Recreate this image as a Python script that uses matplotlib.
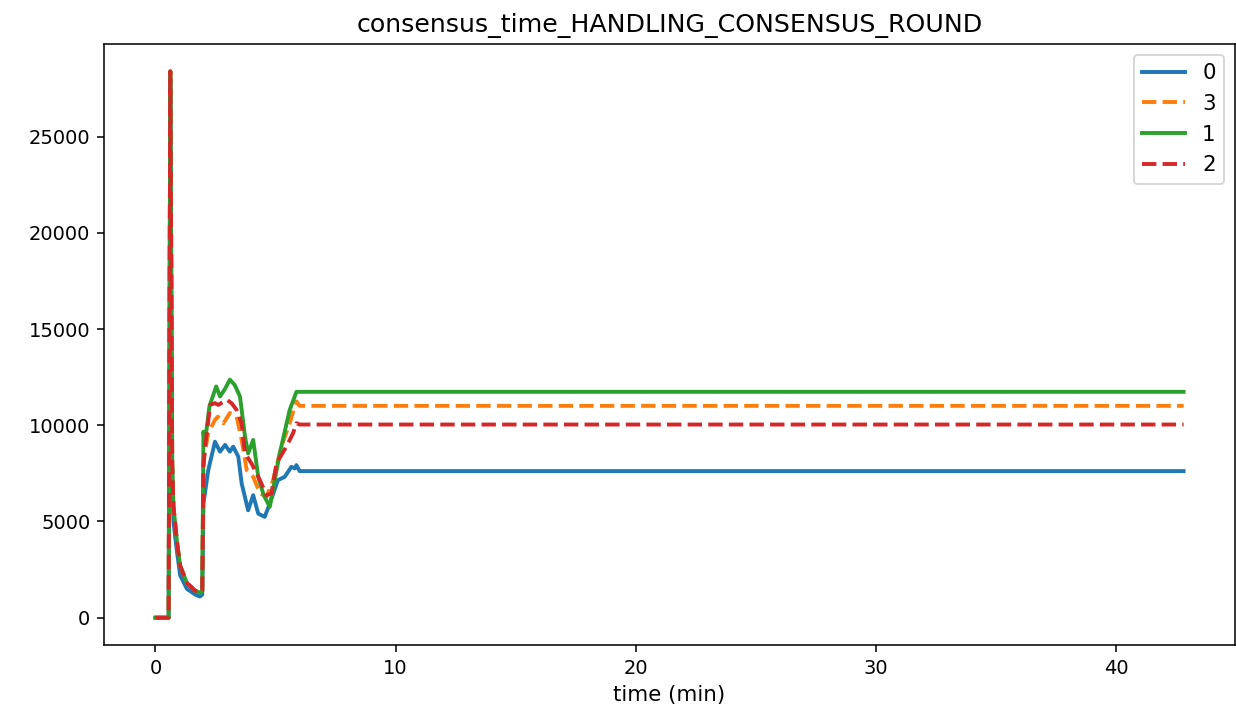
import matplotlib
matplotlib.use("Agg")
import matplotlib.pyplot as plt

# values (time in minutes)
t_early = [0, 0.55, 0.62, 0.7, 0.75, 0.9, 1.03, 1.31, 1.66, 1.85, 1.95]
early_hi = [0, 0, 28400, 8000, 5800, 3900, 2700, 1800, 1400, 1300, 1400]
early_lo = [0, 0, 28000, 7000, 5000, 3400, 2200, 1500, 1200, 1100, 1200]

t0 = [2.0, 2.2, 2.48, 2.69, 2.9, 3.1, 3.24, 3.45, 3.59, 3.86, 4.07, 4.28,
      4.55, 4.76, 5.1, 5.38, 5.66, 5.8, 5.87, 6.0, 42.8]
v0 = [5930, 7670, 9150, 8630, 8980, 8630, 8890, 8370, 6980, 5580, 6370, 5410,
      5240, 5930, 7150, 7320, 7840, 7760, 7930, 7620, 7620]

t3 = [2.0, 2.2, 2.48, 2.6, 2.83, 3.1, 3.38, 3.59, 3.8, 4.07, 4.35, 4.62,
      4.9, 5.24, 5.59, 5.8, 5.87, 6.0, 42.8]
v3 = [8200, 9600, 10280, 10450, 10100, 10640, 10450, 9240, 7670, 7320, 6470, 6280,
      7150, 8890, 10110, 10980, 11240, 11010, 11010]

t1 = [2.0, 2.05, 2.25, 2.53, 2.69, 2.9, 3.1, 3.3, 3.52, 3.73, 3.86, 4.07,
      4.28, 4.5, 4.76, 5.18, 5.59, 5.87, 6.0, 42.8]
v1 = [9670, 9000, 11000, 12020, 11500, 11900, 12370, 12100, 11500, 9410, 8540, 9240,
      7320, 6400, 5760, 8560, 10800, 11740, 11740, 11740]

t2 = [2.0, 2.07, 2.28, 2.48, 2.62, 2.97, 3.17, 3.38, 3.59, 3.73, 4.0, 4.35,
      4.62, 4.83, 5.04, 5.45, 5.73, 5.87, 6.0, 42.8]
v2 = [7840, 8890, 11060, 11150, 11060, 11330, 11150, 10800, 10110, 8540, 8020, 7150,
      6370, 6460, 8020, 8890, 9590, 10110, 10040, 10040]

series = [
    ("0", t_early + t0, early_lo + v0, "#1f77b4", "-"),
    ("3", t_early + t3, early_hi + v3, "#ff7f0e", "--"),
    ("1", t_early + t1, early_hi + v1, "#2ca02c", "-"),
    ("2", t_early + t2, early_hi + v2, "#d62728", "--"),
]

fig = plt.figure(figsize=(1236 / 140, 715 / 140), dpi=140)
ax = fig.add_axes([104 / 1236, 1 - 645 / 715, 1131 / 1236, 601 / 715])

for name, t, v, color, ls in series:
    ax.plot(t, v, color=color, linestyle=ls, linewidth=2, label=name)

ax.set_title("consensus_time_HANDLING_CONSENSUS_ROUND", fontsize=13)
ax.set_xlabel("time (min)", fontsize=11)
ax.tick_params(labelsize=10)
ax.legend(loc="upper right", fontsize=11)

fig.savefig("out.png", dpi=140)
